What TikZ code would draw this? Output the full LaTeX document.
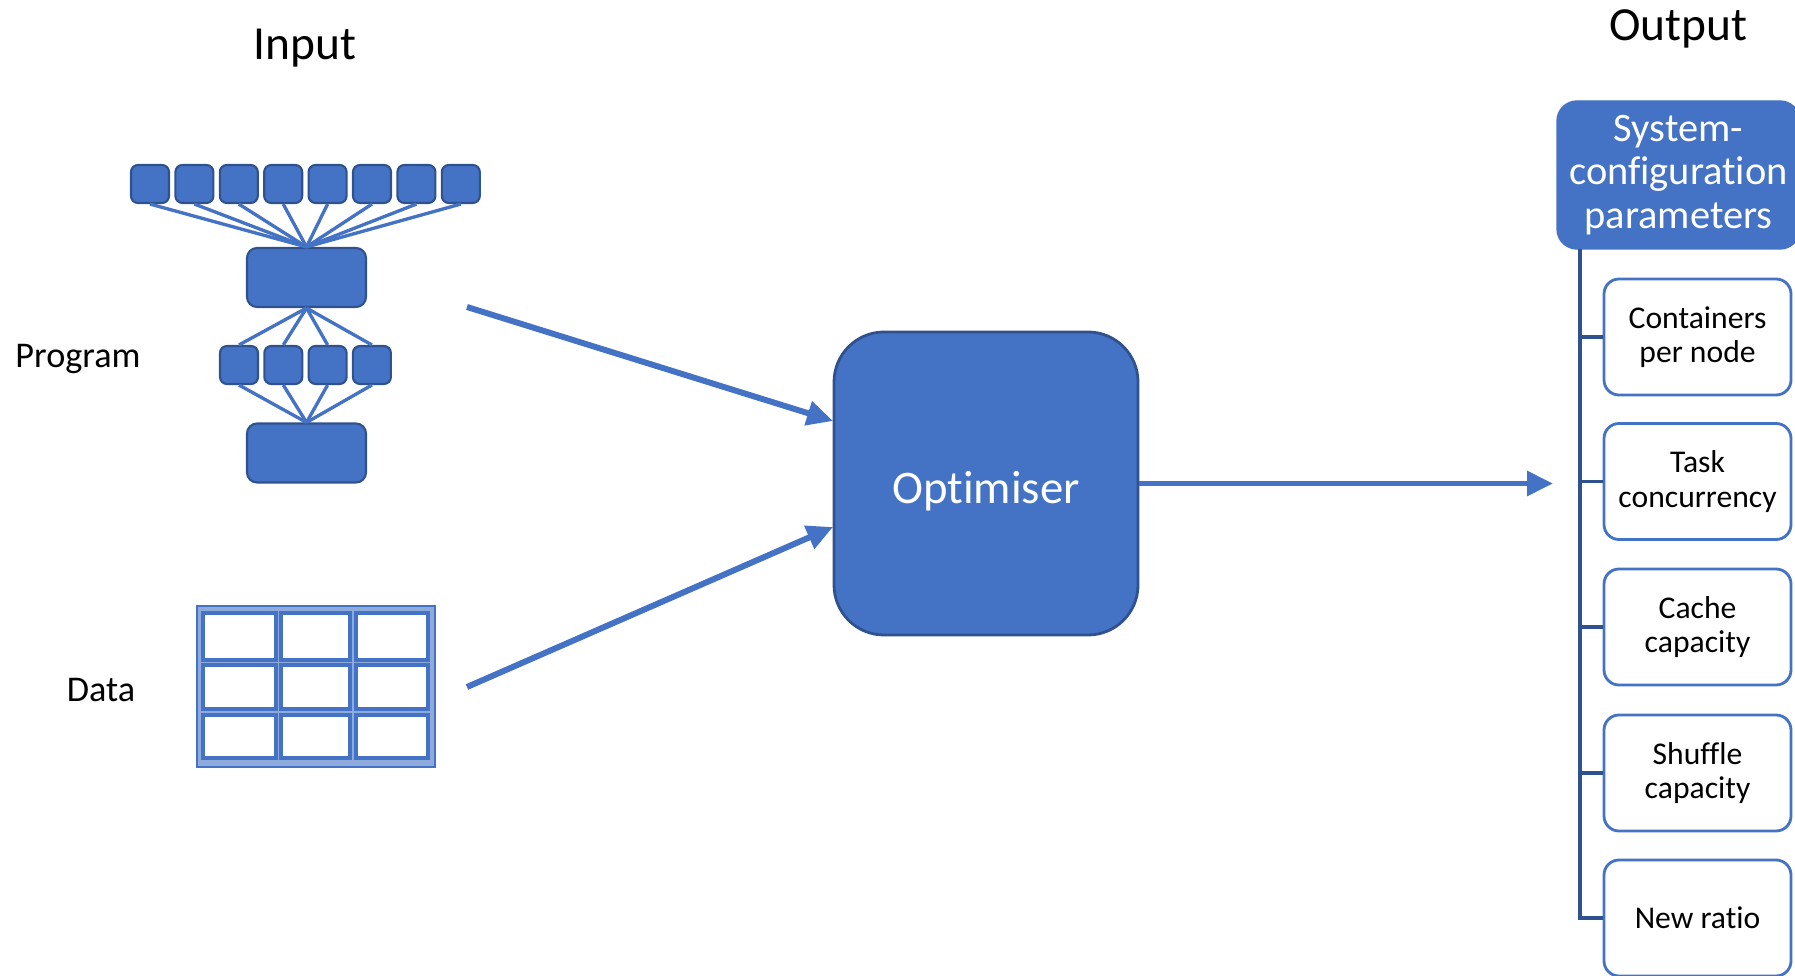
\documentclass[tikz,border=0pt]{standalone}
\usepackage{fontspec}
\setmainfont{Carlito}[Ligatures=NoCommon]
\usetikzlibrary{shapes,arrows.meta}
\definecolor{officeblue}{HTML}{4472C4}
\definecolor{edgeblue}{HTML}{2F528F}
\definecolor{paleblue}{HTML}{8FAADC}

\begin{document}
\begin{tikzpicture}[x=0.1mm,y=-0.1mm]
\tikzstyle{leaf} = [draw=edgeblue, fill=officeblue, rounded corners=0.7mm, minimum width=3.8mm, minimum height=3.8mm, line width=0.6pt, inner sep=0pt]
\tikzstyle{stage} = [leaf, minimum width=11.9mm, minimum height=5.9mm, rounded corners=1mm]
\tikzstyle{link} = [draw=officeblue, line width=0.95pt]
\tikzstyle{flow} = [draw=officeblue, line width=1.7pt, -{Triangle[length=2.6mm,width=2.4mm]}]
\tikzstyle{param} = [draw=officeblue, fill=white, line width=0.8pt, rounded corners=1.5mm, minimum width=18.7mm, minimum height=11.6mm, align=center, font=\fontsize{9}{9.8}\selectfont]
\tikzstyle{sidetext} = [font=\fontsize{10.3}{12}\selectfont]
\tikzstyle{headtext} = [font=\fontsize{13.5}{15}\selectfont]

\clip (0,0) rectangle (1795,976);

\node [headtext] (input) at (305, 48) {Input};
\node [headtext] (output) at (1678, 29) {Output};
\node [sidetext] (program) at (78, 359) {Program};
\node [sidetext] (data) at (101, 690) {Data};

% program tree
\node [leaf] (t1) at (150, 184) {};
\node [leaf] (t2) at (194.4, 184) {};
\node [leaf] (t3) at (238.8, 184) {};
\node [leaf] (t4) at (283.2, 184) {};
\node [leaf] (t5) at (327.6, 184) {};
\node [leaf] (t6) at (372, 184) {};
\node [leaf] (t7) at (416.4, 184) {};
\node [leaf] (t8) at (460.8, 184) {};
\node [stage] (p1) at (306.5, 277.5) {};
\node [leaf] (m1) at (239, 365) {};
\node [leaf] (m2) at (283.3, 365) {};
\node [leaf] (m3) at (327.6, 365) {};
\node [leaf] (m4) at (371.9, 365) {};
\node [stage] (p2) at (306.5, 453) {};
\draw [link] (t1.south) -- (p1.north);
\draw [link] (t2.south) -- (p1.north);
\draw [link] (t3.south) -- (p1.north);
\draw [link] (t4.south) -- (p1.north);
\draw [link] (t5.south) -- (p1.north);
\draw [link] (t6.south) -- (p1.north);
\draw [link] (t7.south) -- (p1.north);
\draw [link] (t8.south) -- (p1.north);
\draw [link] (p1.south) -- (m1.north);
\draw [link] (p1.south) -- (m2.north);
\draw [link] (p1.south) -- (m3.north);
\draw [link] (p1.south) -- (m4.north);
\draw [link] (m1.south) -- (p2.north);
\draw [link] (m2.south) -- (p2.north);
\draw [link] (m3.south) -- (p2.north);
\draw [link] (m4.south) -- (p2.north);

% data table
\fill [paleblue] (197, 606) rectangle (435, 767);
\draw [officeblue, line width=0.8pt] (197, 606) rectangle (435, 767);
\draw [officeblue, line width=1pt, fill=white] (203, 613) rectangle (276, 660);
\draw [officeblue, line width=1pt, fill=white] (281, 613) rectangle (350, 660);
\draw [officeblue, line width=1pt, fill=white] (356, 613) rectangle (428, 660);
\draw [officeblue, line width=1pt, fill=white] (203, 665) rectangle (276, 709);
\draw [officeblue, line width=1pt, fill=white] (281, 665) rectangle (350, 709);
\draw [officeblue, line width=1pt, fill=white] (356, 665) rectangle (428, 709);
\draw [officeblue, line width=1pt, fill=white] (203, 715) rectangle (276, 758);
\draw [officeblue, line width=1pt, fill=white] (281, 715) rectangle (350, 758);
\draw [officeblue, line width=1pt, fill=white] (356, 715) rectangle (428, 758);

% optimiser
\node [draw=edgeblue, fill=officeblue, line width=0.8pt, rounded corners=5mm, minimum width=30.4mm, minimum height=30.3mm, text height=4.7mm, text=white, font=\fontsize{13.3}{15}\selectfont] (opt) at (986, 483.5) {Optimiser};
\coordinate (progout) at (467, 307);
\coordinate (progin) at (833, 421);
\coordinate (dataout) at (467, 687);
\coordinate (datain) at (833, 527);
\coordinate (outin) at (1553, 483.5);
\draw [flow] (progout) -- (progin);
\draw [flow] (dataout) -- (datain);
\draw [flow] (opt.east) -- (outin);

% output parameters
\node [fill=officeblue, draw=officeblue, rounded corners=2mm, minimum width=24.3mm, minimum height=14.8mm, text=white, align=center, font=\fontsize{11.5}{12.4}\selectfont] (hdr) at (1678.5, 175) {System-\\configuration\\parameters};
\node [param] (c1) at (1697.5, 337) {Containers\\per node};
\node [param] (c2) at (1697.5, 481.5) {Task\\concurrency};
\node [param] (c3) at (1697.5, 627) {Cache\\capacity};
\node [param] (c4) at (1697.5, 773) {Shuffle\\capacity};
\node [param] (c5) at (1697.5, 918) {New ratio};
\coordinate (trunk) at (1580, 249);
\draw [draw=edgeblue, line width=0.95pt] (trunk) |- (c1.west);
\draw [draw=edgeblue, line width=0.95pt] (trunk) |- (c2.west);
\draw [draw=edgeblue, line width=0.95pt] (trunk) |- (c3.west);
\draw [draw=edgeblue, line width=0.95pt] (trunk) |- (c4.west);
\draw [draw=edgeblue, line width=0.95pt] (trunk) |- (c5.west);
\end{tikzpicture}
\end{document}
